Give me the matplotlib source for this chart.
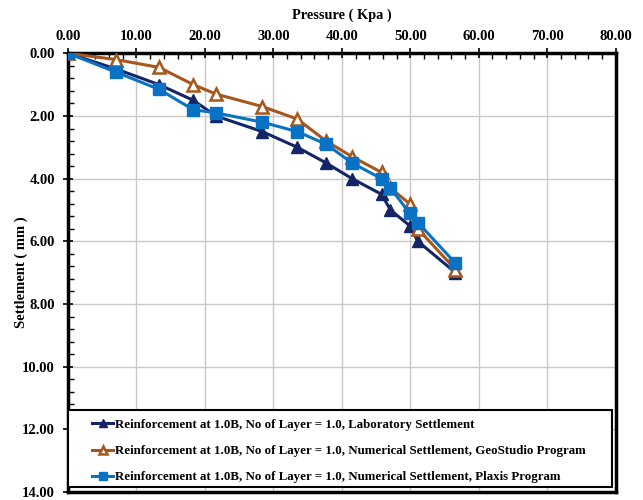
import matplotlib
matplotlib.use("Agg")
import matplotlib.pyplot as plt
from matplotlib.patches import Rectangle
from matplotlib.ticker import MultipleLocator, FormatStrFormatter

# pressure (Kpa) readings, same for all three series
pressure = [0, 7.0, 13.3, 18.3, 21.6, 28.4, 33.5, 37.7, 41.5, 45.8, 47.1, 49.9, 51.1, 56.6]

# settlement (mm)
lab_settle = [0, 0.5, 1.0, 1.5, 2.0, 2.5, 3.0, 3.5, 4.0, 4.5, 5.0, 5.5, 6.0, 7.0]
geo_settle = [0, 0.2, 0.45, 1.0, 1.3, 1.7, 2.1, 2.8, 3.3, 3.8, 4.3, 4.8, 5.6, 6.9]
plaxis_settle = [0, 0.6, 1.15, 1.8, 1.9, 2.2, 2.5, 2.9, 3.5, 4.0, 4.3, 5.1, 5.4, 6.7]

labels = ["Reinforcement at 1.0B, No of Layer = 1.0, Laboratory Settlement",
          "Reinforcement at 1.0B, No of Layer = 1.0, Numerical Settlement, GeoStudio Program",
          "Reinforcement at 1.0B, No of Layer = 1.0, Numerical Settlement, Plaxis Program"]

plt.rcParams['font.family'] = ['Liberation Serif', 'DejaVu Serif']
plt.rcParams['font.weight'] = 'bold'

fig = plt.figure(figsize=(6.43, 5.0), dpi=100)
ax = fig.add_axes([0.1058, 0.016, 0.8517, 0.8774])

navy = '#132566'
brown = '#A8561B'
blue = '#0A72C4'

ax.plot(pressure, lab_settle, color=navy, lw=2.2, marker='^', ms=8,
        mfc=navy, mec=navy, label=labels[0], zorder=3)
ax.plot(pressure, geo_settle, color=brown, lw=2.2, marker='^', ms=9,
        mfc='white', mec=brown, mew=1.8, label=labels[1], zorder=4)
ax.plot(pressure, plaxis_settle, color=blue, lw=2.2, marker='s', ms=8,
        mfc=blue, mec=blue, label=labels[2], zorder=5)

ax.set_xlim(0, 80)
ax.set_ylim(14, 0)
ax.xaxis.set_major_locator(MultipleLocator(10))
ax.xaxis.set_minor_locator(MultipleLocator(2))
ax.yaxis.set_major_locator(MultipleLocator(2))
ax.yaxis.set_minor_locator(MultipleLocator(0.4))
ax.xaxis.set_major_formatter(FormatStrFormatter('%.2f'))
ax.yaxis.set_major_formatter(FormatStrFormatter('%.2f'))
ax.xaxis.tick_top()
ax.xaxis.set_label_position('top')
ax.tick_params(axis='both', which='major', direction='inout', length=7, width=1.2,
               labelsize=10.5, pad=4)
ax.tick_params(axis='y', which='major', pad=6)
ax.tick_params(axis='both', which='minor', direction='in', length=4, width=1)
for lab in ax.get_xticklabels() + ax.get_yticklabels():
    lab.set_fontweight('bold')

ax.grid(True, which='major', color='#c8c8c8', lw=1)
ax.set_axisbelow(True)
for s in ax.spines.values():
    s.set_linewidth(2.5)

ax.set_xlabel('Pressure ( Kpa )', fontsize=10.3, fontweight='bold', labelpad=8)
ax.set_ylabel('Settlement ( mm )', fontsize=10.5, fontweight='bold', labelpad=-4)

# legend box drawn by hand so the entries can sit indented inside it
box = Rectangle((0.0, 0.011), 0.993, 0.176, transform=ax.transAxes,
                facecolor='white', edgecolor='black', lw=1.5, zorder=6)
ax.add_patch(box)

leg = ax.legend(loc='upper left', bbox_to_anchor=(0.0438, 0.167),
                frameon=False, fontsize=9.3,
                handlelength=1.65, handletextpad=0.15, labelspacing=1.1,
                borderaxespad=0, borderpad=0)
leg.set_zorder(7)
for t in leg.get_texts():
    t.set_fontweight('bold')
for h in leg.legend_handles:
    h.set_markersize(6)

fig.savefig('out.png', dpi=100)
